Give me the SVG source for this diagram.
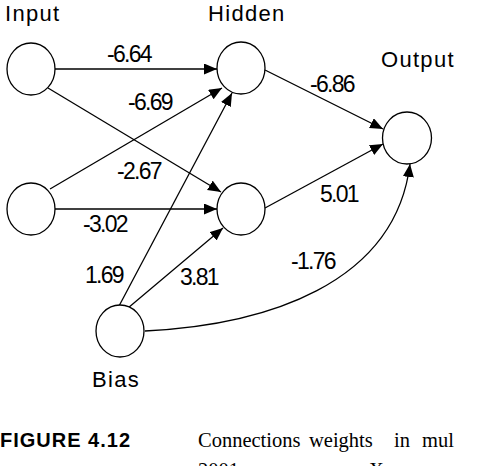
<svg xmlns="http://www.w3.org/2000/svg" width="498" height="466" viewBox="0 0 498 466">
<style>
.node{fill:#fff;stroke:#000;stroke-width:1.3}
.edge{fill:none;stroke:#000;stroke-width:1.3}
.lbl{font-family:"Liberation Sans",Arial,sans-serif;font-size:22px;letter-spacing:1.3px;fill:#000}
.w{font-family:"Liberation Sans",Arial,sans-serif;font-size:23px;letter-spacing:-1.7px;fill:#000}
.fig{font-family:"Liberation Sans",Arial,sans-serif;font-size:20px;font-weight:bold;letter-spacing:1px;fill:#000}
.cap{font-family:"Liberation Serif","Times New Roman",serif;font-size:20.5px;fill:#000}
</style>
<defs>
<marker id="ah" markerUnits="userSpaceOnUse" markerWidth="14" markerHeight="12" refX="13" refY="5.5" orient="auto">
<path d="M0,0 L13,5.5 L0,11 z" fill="#000"/>
</marker>
</defs>
<g id="connectors">
<line class="edge" x1="55" y1="69" x2="217" y2="69" marker-end="url(#ah)"/>
<line class="edge" x1="48" y1="88" x2="221" y2="192" marker-end="url(#ah)"/>
<line class="edge" x1="50" y1="189" x2="222" y2="88" marker-end="url(#ah)"/>
<line class="edge" x1="55" y1="209" x2="217" y2="209" marker-end="url(#ah)"/>
<line class="edge" x1="119" y1="306" x2="232" y2="93" marker-end="url(#ah)"/>
<line class="edge" x1="128" y1="308" x2="223" y2="228" marker-end="url(#ah)"/>
<line class="edge" x1="265" y1="70" x2="383" y2="129" marker-end="url(#ah)"/>
<line class="edge" x1="265" y1="208" x2="383" y2="144" marker-end="url(#ah)"/>
<path class="edge" d="M145,331 C265,325 395,285 410,164" marker-end="url(#ah)"/>
</g>
<g id="input1"><ellipse class="node" cx="31" cy="69" rx="24" ry="26"/></g>
<g id="input2"><ellipse class="node" cx="31" cy="209" rx="24" ry="26"/></g>
<g id="hidden1"><ellipse class="node" cx="241" cy="68" rx="24" ry="26"/></g>
<g id="hidden2"><ellipse class="node" cx="241" cy="209" rx="24" ry="26"/></g>
<g id="output"><ellipse class="node" cx="407" cy="138" rx="24.5" ry="26"/></g>
<g id="bias"><ellipse class="node" cx="120" cy="331" rx="24" ry="26"/></g>
<g id="labels">
<text class="lbl" x="5" y="21">Input</text>
<text class="lbl" x="208" y="21">Hidden</text>
<text class="lbl" x="381" y="67">Output</text>
<text class="lbl" x="92" y="387">Bias</text>
<text class="w" x="107" y="62">-6.64</text>
<text class="w" x="128" y="110">-6.69</text>
<text class="w" x="310" y="92">-6.86</text>
<text class="w" x="320" y="202">5.01</text>
<text class="w" x="117" y="179">-2.67</text>
<text class="w" x="83" y="232">-3.02</text>
<text class="w" x="85" y="283">1.69</text>
<text class="w" x="180" y="285">3.81</text>
<text class="w" x="291" y="269">-1.76</text>
</g>
<g id="caption">
<text class="fig" x="0" y="447">FIGURE 4.12</text>
<text class="cap" y="447"><tspan x="198">Connections</tspan><tspan x="309">weights</tspan><tspan x="394">in</tspan><tspan x="422">mul</tspan></text>
<text class="cap" y="477"><tspan x="198">2001</tspan><tspan x="261">sweeps</tspan><tspan x="343">on</tspan><tspan x="369">X<tspan font-size="16">OR</tspan></tspan></text>
</g>
</svg>
